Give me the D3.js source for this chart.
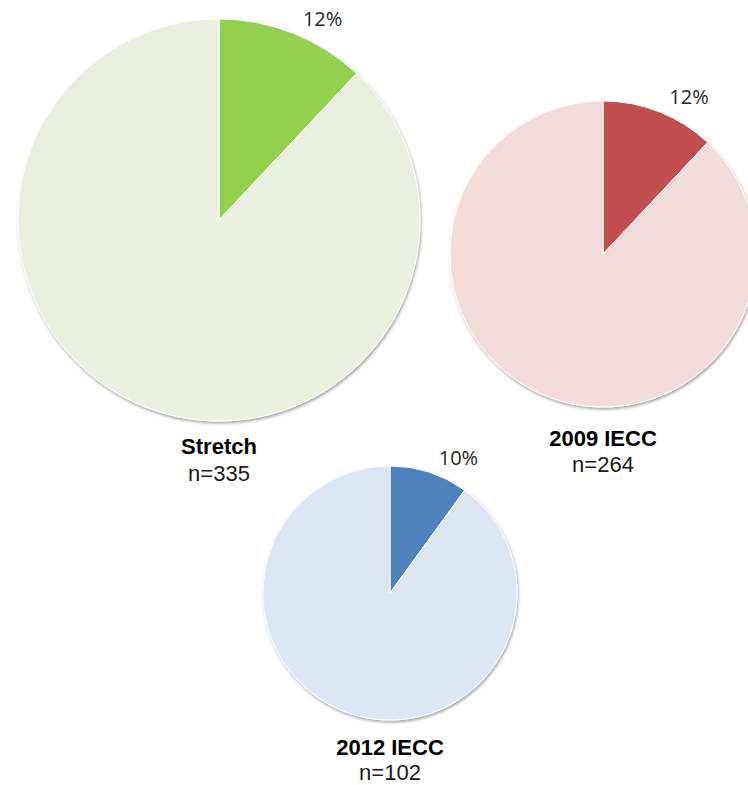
<!DOCTYPE html>
<html>
<head>
<meta charset="utf-8">
<script src="https://cdn.jsdelivr.net/npm/d3@7"></script>
<style>
  html, body { margin: 0; padding: 0; background: #ffffff; }
  svg { display: block; }
</style>
</head>
<body>
<script>
// ---- Data ----
const categories = ["Stretch", "2009 IECC", "2012 IECC"];
const sampleSizes = [335, 264, 102];
const sharePercents = [12, 12, 10];

// ---- Layout / style (not data) ----
const layout = [
  { cx: 219, cy: 220, r: 201, titleY: 454, nY: 481 },
  { cx: 603, cy: 254, r: 153, titleY: 446, nY: 472 },
  { cx: 390, cy: 593, r: 127, titleY: 755, nY: 780 }
];
const sliceColors = ["#92D050", "#C0504D", "#4F81BD"];
const restColors  = ["#EBEFDF", "#F2DCDB", "#DCE6F2"];

const W = 748, H = 785;
const svg = d3.select("body").append("svg").attr("width", W).attr("height", H);

const defs = svg.append("defs");
const f = defs.append("filter").attr("id", "shadow")
  .attr("x", "-10%").attr("y", "-10%").attr("width", "120%").attr("height", "120%");
f.append("feDropShadow").attr("dx", 1).attr("dy", 2).attr("stdDeviation", 1.6)
  .attr("flood-color", "#000").attr("flood-opacity", 0.35);

const pie = d3.pie().sort(null).value(d => d);

categories.forEach((cat, i) => {
  const L = layout[i];
  const values = [sharePercents[i], 100 - sharePercents[i]];
  const arcs = pie(values);
  const arc = d3.arc().innerRadius(0).outerRadius(L.r);
  const g = svg.append("g").attr("transform", `translate(${L.cx},${L.cy})`);

  const pg = g.append("g").attr("filter", "url(#shadow)");
  pg.selectAll("path").data(arcs).join("path")
    .attr("d", arc)
    .attr("fill", (d, j) => j === 0 ? sliceColors[i] : restColors[i])
    .attr("stroke", "#ffffff")
    .attr("stroke-width", 1);

  // percentage label just outside the slice
  const a0 = arcs[0];
  const mid = (a0.startAngle + a0.endAngle) / 2;
  const lr = L.r + 8;
  const lx = Math.sin(mid) * lr, ly = -Math.cos(mid) * lr;
  g.append("text")
    .attr("x", lx + 7).attr("y", ly)
    .attr("font-family", "'Open Sans', 'Liberation Sans', sans-serif")
    .attr("font-size", 20)
    .attr("fill", "#262626")
    .text(sharePercents[i] + "%");

  svg.append("text")
    .attr("x", L.cx).attr("y", L.titleY)
    .attr("text-anchor", "middle")
    .attr("font-family", "'Liberation Sans', Arial, sans-serif")
    .attr("font-weight", "bold")
    .attr("font-size", 22)
    .attr("fill", "#000")
    .text(cat);

  svg.append("text")
    .attr("x", L.cx).attr("y", L.nY)
    .attr("text-anchor", "middle")
    .attr("font-family", "'Liberation Sans', Arial, sans-serif")
    .attr("font-size", 22)
    .attr("fill", "#1a1a1a")
    .text("n=" + sampleSizes[i]);
});
</script>
</body>
</html>
